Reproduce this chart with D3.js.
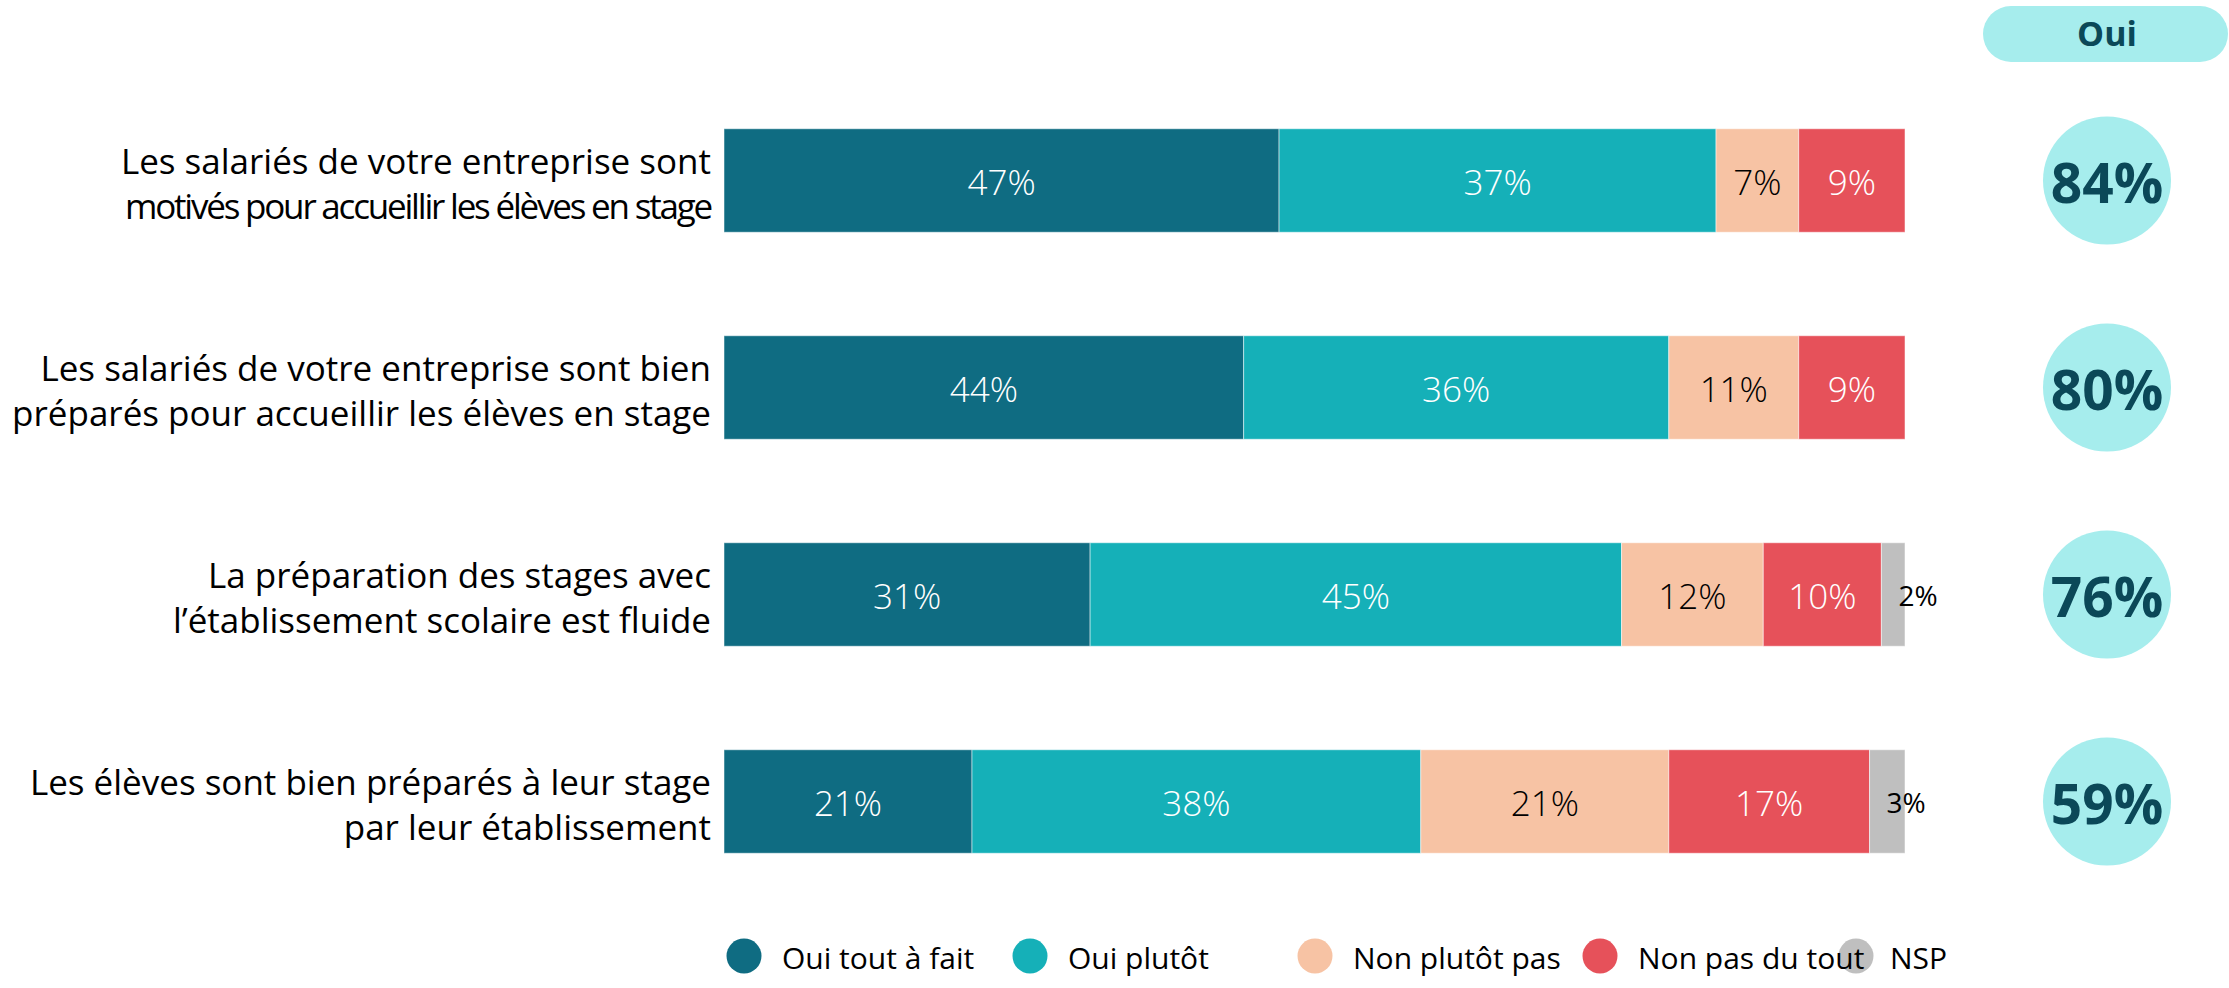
<!DOCTYPE html>
<meta charset="utf-8">
<head>
  <title>Stages - perception des entreprises</title>
</head>
<body>
<style>

  html, body {
    margin: 0;
    background: #fff;
  }

  svg text {
    font-family: "Open Sans", "Noto Sans", sans-serif;
  }

  .question {
    font-size: 35px;
    fill: #000;
  }

  .question .tight {
    letter-spacing: -2.2px;
  }

  .seg-label {
    font-size: 35px;
    font-weight: 300;
  }

  .nsp-label {
    font-size: 28px;
    fill: #000;
  }

  .oui-value {
    font-size: 55px;
    font-weight: 700;
    fill: #0b4858;
  }

  .oui-head {
    font-size: 34px;
    font-weight: 700;
    fill: #0b4858;
  }

  .legend-label {
    font-size: 30px;
    fill: #000;
  }

</style>
<div class='chart'></div>
<script src="https://cdn.jsdelivr.net/npm/d3@7"></script>
<script>

(function() {

var questions = [
  ["Les salariés de votre entreprise sont", "motivés pour accueillir les élèves en stage"],
  ["Les salariés de votre entreprise sont bien", "préparés pour accueillir les élèves en stage"],
  ["La préparation des stages avec", "l’établissement scolaire est fluide"],
  ["Les élèves sont bien préparés à leur stage", "par leur établissement"]
];

var series = ["Oui tout à fait", "Oui plutôt", "Non plutôt pas", "Non pas du tout", "NSP"];

var ouiToutAFait = [47, 44, 31, 21],
    ouiPlutot    = [37, 36, 45, 38],
    nonPlutotPas = [7, 11, 12, 21],
    nonPasDuTout = [9, 9, 10, 17],
    nsp          = [0, 0, 2, 3];

var colors = ["#0f6c82", "#15b0b8", "#f7c3a4", "#e6515a", "#bfbfbf"],
    textColors = ["#fff", "#fff", "#000", "#fff", "#000"];

var width = 2229,
    height = 988;

var rows = questions.map(function(q, i) {
  return {
    id: i,
    lines: q,
    values: [ouiToutAFait[i], ouiPlutot[i], nonPlutotPas[i], nonPasDuTout[i], nsp[i]]
  };
});

var svg = d3.select('.chart').append('svg')
    .attr('width', width)
    .attr('height', height);

var x = d3.scaleLinear()
    .domain([0, 100])
    .range([724, 1905]);

var y = d3.scaleBand()
    .domain(rows.map(function(d) { return d.id; }))
    .range([77, 905])
    .paddingInner(0.5)
    .paddingOuter(0.25);

var badgeX = 2107;

addBars(svg);
addQuestions(svg);
addOui(svg);
addLegend(svg);

function addBars(parent) {
  var row = parent.append('g')
      .attr('class', 'bars')
    .selectAll('g')
      .data(rows)
    .enter().append('g')
      .attr('transform', function(d) { return 'translate(0,' + y(d.id) + ')'; });

  var segs = row.selectAll('g')
      .data(function(d) {
        var acc = 0;
        return d.values.map(function(v, k) {
          var s = {k: k, v: v, x0: acc, x1: acc + v};
          acc += v;
          return s;
        }).filter(function(s) { return s.v > 0; });
      })
    .enter().append('g');

  segs.append('rect')
      .attr('x', function(s) { return x(s.x0); })
      .attr('width', function(s) { return x(s.x1) - x(s.x0); })
      .attr('height', y.bandwidth())
      .attr('fill', function(s) { return colors[s.k]; })
      .attr('stroke', '#fff')
      .attr('stroke-opacity', 0.5)
      .attr('stroke-width', 1);

  // NSP label sits to the right, small and black
  segs.append('text')
      .attr('class', function(s) { return s.k === 4 ? 'nsp-label' : 'seg-label'; })
      .attr('x', function(s) { return s.k === 4 ? x(s.x0) + 17 : (x(s.x0) + x(s.x1)) / 2; })
      .attr('y', y.bandwidth() / 2 + 2)
      .attr('dy', '0.35em')
      .attr('text-anchor', function(s) { return s.k === 4 ? 'start' : 'middle'; })
      .attr('fill', function(s) { return textColors[s.k]; })
      .text(function(s) { return s.v + '%'; });
}

function addQuestions(parent) {
  var lineH = 45;
  parent.append('g')
      .attr('class', 'questions')
    .selectAll('text')
      .data(rows)
    .enter().append('text')
      .attr('class', 'question')
      .attr('text-anchor', 'end')
      .attr('transform', function(d) {
        return 'translate(711,' + (y(d.id) + y.bandwidth() / 2 + 4) + ')';
      })
    .selectAll('tspan')
      .data(function(d) { return d.lines.map(function(l, i) { return {row: d.id, i: i, text: l}; }); })
    .enter().append('tspan')
      // first question's second line is set condensed in the original
      .attr('class', function(l) { return l.row === 0 && l.i === 1 ? 'tight' : null; })
      .attr('x', 0)
      .attr('y', function(l) { return (l.i - 0.5) * lineH; })
      .attr('dy', '0.35em')
      .text(function(l) { return l.text; });
}

function addOui(parent) {
  var g = parent.append('g').attr('class', 'oui');

  g.append('rect')
      .attr('x', 1983)
      .attr('y', 6)
      .attr('width', 245)
      .attr('height', 56)
      .attr('rx', 28)
      .attr('fill', '#a6eded');

  g.append('text')
      .attr('class', 'oui-head')
      .attr('x', badgeX)
      .attr('y', 34)
      .attr('dy', '0.35em')
      .attr('text-anchor', 'middle')
      .text('Oui');

  var badge = g.selectAll('g.badge')
      .data(rows)
    .enter().append('g')
      .attr('class', 'badge')
      .attr('transform', function(d) {
        return 'translate(' + badgeX + ',' + (y(d.id) + y.bandwidth() / 2) + ')';
      });

  badge.append('circle')
      .attr('r', 64)
      .attr('fill', '#a6eded');

  badge.append('text')
      .attr('class', 'oui-value')
      .attr('text-anchor', 'middle')
      .attr('y', 3)
      .attr('dy', '0.35em')
      .text(function(d) { return (d.values[0] + d.values[1]) + '%'; });
}

function addLegend(parent) {
  var markerX = [744, 1030, 1315, 1600, 1856],
      legendY = 956;

  var legend = parent.append('g').attr('class', 'legend');

  // markers first so the labels stay on top where they touch
  legend.append('g').selectAll('circle')
      .data(series)
    .enter().append('circle')
      .attr('cx', function(d, i) { return markerX[i]; })
      .attr('cy', legendY)
      .attr('r', 17.5)
      .attr('fill', function(d, i) { return colors[i]; });

  legend.append('g').selectAll('text')
      .data(series)
    .enter().append('text')
      .attr('class', 'legend-label')
      .attr('x', function(d, i) { return markerX[i] + (i === 4 ? 34 : 38); })
      .attr('y', legendY + 2)
      .attr('dy', '0.35em')
      .text(function(d) { return d; });
}
})();

</script>
</body>
